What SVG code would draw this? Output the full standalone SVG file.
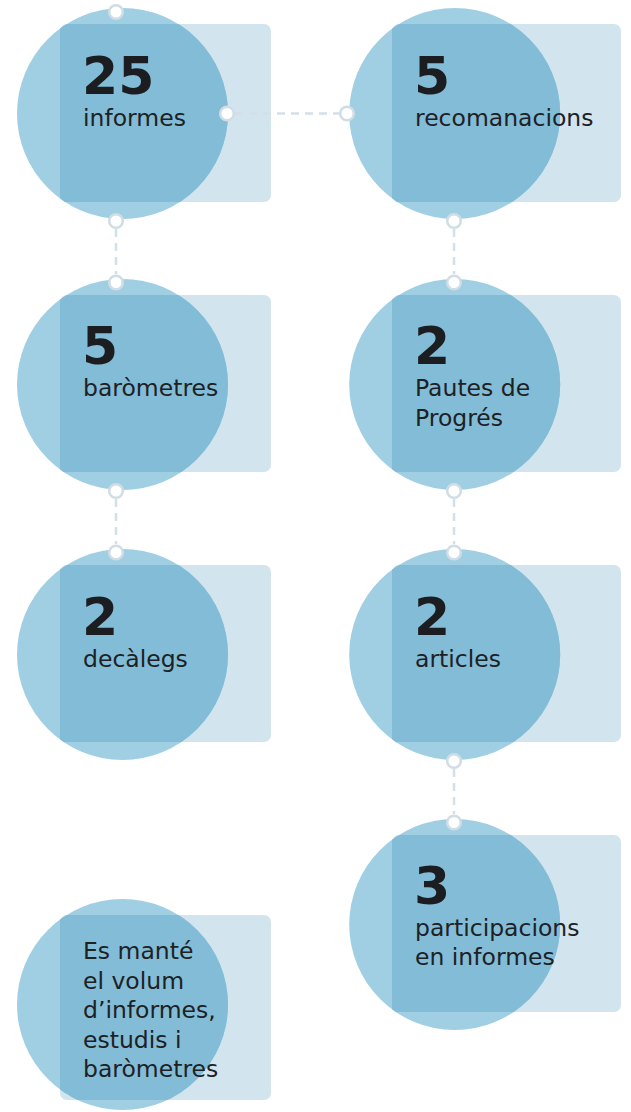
<svg xmlns="http://www.w3.org/2000/svg" width="631" height="1112" viewBox="0 0 631 1112">
<style>
.card{fill:#d2e5ee}
.disc{fill:#a0cfe3}
.over{fill:#82bcd6}
.num{font-family:"DejaVu Sans",sans-serif;font-weight:bold;font-size:52px;fill:#1b1d20}
.lbl{font-family:"DejaVu Sans",sans-serif;font-size:23.5px;fill:#1e2124}
.dash{stroke:#d2e0e8;stroke-width:2.5;stroke-dasharray:8 6;fill:none}
.port{fill:#ffffff;stroke:#d0dde5;stroke-width:2.5}
</style>
<defs>
<clipPath id="c1"><circle cx="122.5" cy="113.5" r="105.5"/></clipPath>
<clipPath id="c2"><circle cx="454.7" cy="113.5" r="105.5"/></clipPath>
<clipPath id="c3"><circle cx="122.5" cy="384.5" r="105.5"/></clipPath>
<clipPath id="c4"><circle cx="454.7" cy="384.5" r="105.5"/></clipPath>
<clipPath id="c5"><circle cx="122.5" cy="654.5" r="105.5"/></clipPath>
<clipPath id="c6"><circle cx="454.7" cy="654.5" r="105.5"/></clipPath>
<clipPath id="c7"><circle cx="454.7" cy="924.5" r="105.5"/></clipPath>
<clipPath id="c8"><circle cx="122.5" cy="1004.5" r="105.5"/></clipPath>
</defs>

<g id="node-informes">
<rect class="card" x="60" y="24" width="211" height="178" rx="7"/>
<circle class="disc" cx="122.5" cy="113.5" r="105.5"/>
<rect class="over" x="60" y="24" width="211" height="178" clip-path="url(#c1)"/>
<text class="num" x="82" y="94">25</text>
<text class="lbl" x="83" y="126">informes</text>
</g>

<g id="node-recomanacions">
<rect class="card" x="392" y="24" width="229" height="178" rx="7"/>
<circle class="disc" cx="454.7" cy="113.5" r="105.5"/>
<rect class="over" x="392" y="24" width="229" height="178" clip-path="url(#c2)"/>
<text class="num" x="414" y="94">5</text>
<text class="lbl" x="415" y="126">recomanacions</text>
</g>

<g id="node-barometres">
<rect class="card" x="60" y="295" width="211" height="177" rx="7"/>
<circle class="disc" cx="122.5" cy="384.5" r="105.5"/>
<rect class="over" x="60" y="295" width="211" height="177" clip-path="url(#c3)"/>
<text class="num" x="82" y="364">5</text>
<text class="lbl" x="83" y="396">baròmetres</text>
</g>

<g id="node-pautes">
<rect class="card" x="392" y="295" width="229" height="177" rx="7"/>
<circle class="disc" cx="454.7" cy="384.5" r="105.5"/>
<rect class="over" x="392" y="295" width="229" height="177" clip-path="url(#c4)"/>
<text class="num" x="414" y="364">2</text>
<text class="lbl" x="415" y="396">Pautes de</text>
<text class="lbl" x="415" y="426">Progrés</text>
</g>

<g id="node-decalegs">
<rect class="card" x="60" y="565" width="211" height="177" rx="7"/>
<circle class="disc" cx="122.5" cy="654.5" r="105.5"/>
<rect class="over" x="60" y="565" width="211" height="177" clip-path="url(#c5)"/>
<text class="num" x="82" y="635">2</text>
<text class="lbl" x="83" y="667">decàlegs</text>
</g>

<g id="node-articles">
<rect class="card" x="392" y="565" width="229" height="177" rx="7"/>
<circle class="disc" cx="454.7" cy="654.5" r="105.5"/>
<rect class="over" x="392" y="565" width="229" height="177" clip-path="url(#c6)"/>
<text class="num" x="414" y="635">2</text>
<text class="lbl" x="415" y="667">articles</text>
</g>

<g id="node-participacions">
<rect class="card" x="392" y="835" width="229" height="177" rx="7"/>
<circle class="disc" cx="454.7" cy="924.5" r="105.5"/>
<rect class="over" x="392" y="835" width="229" height="177" clip-path="url(#c7)"/>
<text class="num" x="414" y="904">3</text>
<text class="lbl" x="415" y="936">participacions</text>
<text class="lbl" x="415" y="965">en informes</text>
</g>

<g id="node-volum">
<rect class="card" x="60" y="915" width="211" height="185" rx="7"/>
<circle class="disc" cx="122.5" cy="1004.5" r="105.5"/>
<rect class="over" x="60" y="915" width="211" height="185" clip-path="url(#c8)"/>
<text class="lbl" x="83" y="959">Es manté</text>
<text class="lbl" x="83" y="989">el volum</text>
<text class="lbl" x="83" y="1018">d’informes,</text>
<text class="lbl" x="83" y="1048">estudis i</text>
<text class="lbl" x="83" y="1077">baròmetres</text>
</g>

<g id="connectors">
<line class="dash" x1="235" y1="113.5" x2="339" y2="113.5"/>
<line class="dash" x1="116" y1="229" x2="116" y2="274"/>
<line class="dash" x1="116" y1="499" x2="116" y2="544"/>
<line class="dash" x1="454" y1="229" x2="454" y2="274"/>
<line class="dash" x1="454" y1="499" x2="454" y2="544"/>
<line class="dash" x1="454" y1="769" x2="454" y2="814"/>
<circle class="port" cx="116" cy="12" r="6.8"/>
<circle class="port" cx="227" cy="113.5" r="6.8"/>
<circle class="port" cx="347" cy="113.5" r="6.8"/>
<circle class="port" cx="116" cy="221" r="6.8"/>
<circle class="port" cx="116" cy="282.5" r="6.8"/>
<circle class="port" cx="116" cy="491" r="6.8"/>
<circle class="port" cx="116" cy="552.5" r="6.8"/>
<circle class="port" cx="454" cy="221" r="6.8"/>
<circle class="port" cx="454" cy="282.5" r="6.8"/>
<circle class="port" cx="454" cy="491" r="6.8"/>
<circle class="port" cx="454" cy="552.5" r="6.8"/>
<circle class="port" cx="454" cy="761" r="6.8"/>
<circle class="port" cx="454" cy="822.5" r="6.8"/>
</g>
</svg>
